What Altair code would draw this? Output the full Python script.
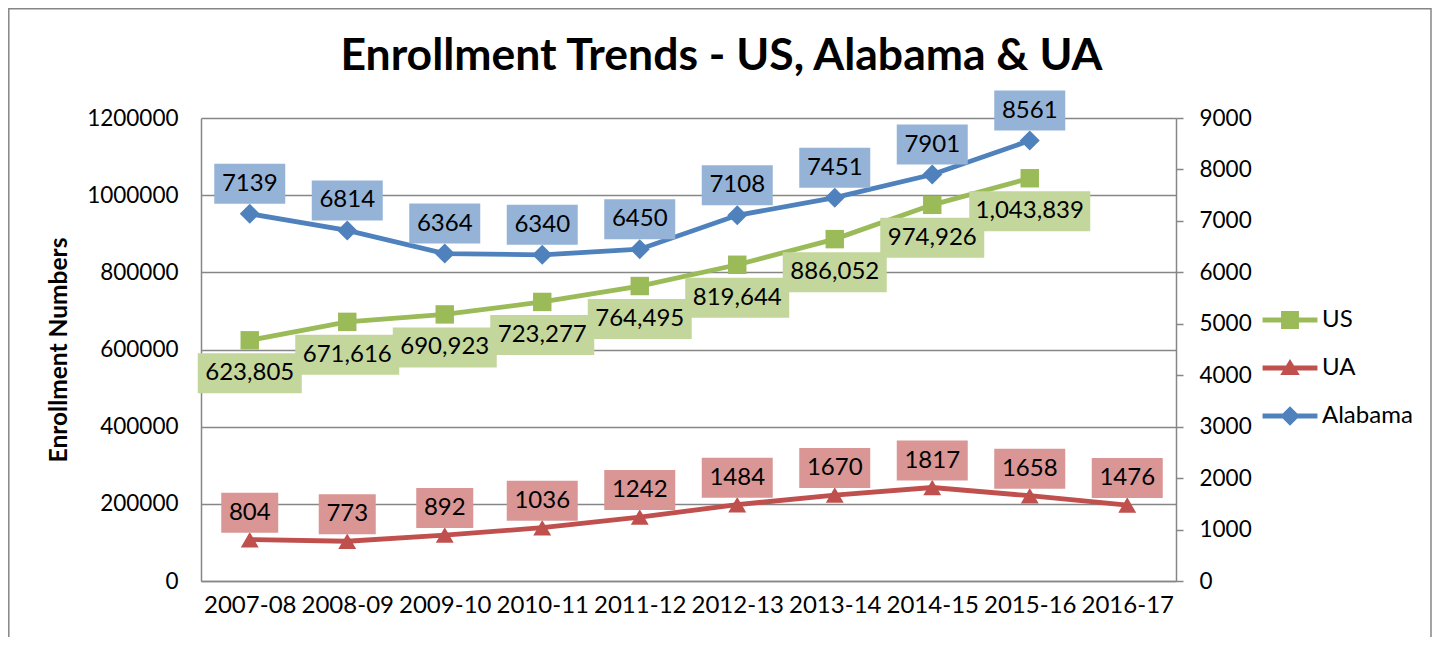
import altair as alt
import pandas as pd

years = ["2007-08", "2008-09", "2009-10", "2010-11", "2011-12",
         "2012-13", "2013-14", "2014-15", "2015-16", "2016-17"]
us_values = [623805, 671616, 690923, 723277, 764495, 819644, 886052, 974926, 1043839, None]
ua_values = [804, 773, 892, 1036, 1242, 1484, 1670, 1817, 1658, 1476]
alabama_values = [7139, 6814, 6364, 6340, 6450, 7108, 7451, 7901, 8561, None]

series_names = ["US", "UA", "Alabama"]
line_colors = ["#9BBB59", "#C0504D", "#4F81BD"]
box_colors = ["#C3D69B", "#D99694", "#95B3D7"]

FONT = "Lato"

# box widths by label character count (pixel sizes of label boxes)
BOX_W = {3: 57, 4: 71, 7: 104, 9: 121}
BOX_H = 40


def box_path(w):
    h = BOX_H / w
    return f"M-1,-{h:.4f}L1,-{h:.4f}L1,{h:.4f}L-1,{h:.4f}Z"


def make_df(name, values, fmt):
    rows = []
    for yr, v in zip(years, values):
        if v is None:
            continue
        lbl = fmt(v)
        w = BOX_W.get(len(lbl), 14 * len(lbl) + 15)
        rows.append({"year": yr, "v": v, "series": name, "lbl": lbl,
                     "bpath": box_path(w), "bsize": w * w})
    return pd.DataFrame(rows)


us_df = make_df("US", us_values, lambda v: f"{v:,}")
ua_df = make_df("UA", ua_values, lambda v: f"{v}")
al_df = make_df("Alabama", alabama_values, lambda v: f"{v}")

x_enc = alt.X("year:N", sort=years,
              scale=alt.Scale(type="point", domain=years, padding=0.5),
              axis=alt.Axis(title=None, ticks=False, labelAngle=0, labelPadding=12,
                            labelFont=FONT, labelFontSize=24, labelColor="#000000",
                            domainColor="#868686", domainWidth=1.5, grid=False))


def series_layers(df, yfield, color, boxcolor, shape, msize, yoff):
    base = alt.Chart(df).encode(x=x_enc, y=yfield)
    line = base.mark_line(color=color, strokeWidth=4.8)
    pts = base.mark_point(shape=shape, size=msize, filled=True, color=color, opacity=1)
    boxes = base.mark_point(filled=True, color=boxcolor, opacity=1, yOffset=yoff).encode(
        shape=alt.Shape("bpath:N", scale=None),
        size=alt.Size("bsize:Q", scale=None),
    )
    txt = base.mark_text(font=FONT, fontSize=24, color="#000000", yOffset=yoff,
                         baseline="middle", align="center").encode(text="lbl:N")
    return [line, pts, boxes, txt]


y_left = alt.Y("v:Q",
               scale=alt.Scale(domain=[0, 1200000], nice=False, zero=True),
               axis=alt.Axis(title="Enrollment Numbers", orient="left",
                             values=list(range(0, 1200001, 200000)), format="d",
                             ticks=False, labelPadding=23,
                             labelFont=FONT, labelFontSize=22.5, labelColor="#000000",
                             titleFont=FONT, titleFontSize=24.5, titleFontWeight="bold",
                             titleColor="#000000", titlePadding=15,
                             grid=True, gridColor="#868686", gridWidth=1.5,
                             domainColor="#868686", domainWidth=1.5))

y_right = alt.Y("v:Q",
                scale=alt.Scale(domain=[0, 9000], nice=False, zero=True),
                axis=alt.Axis(title=None, orient="right",
                              values=list(range(0, 9001, 1000)), format="d",
                              ticks=True, tickSize=7, tickColor="#868686", tickWidth=1.5,
                              labelPadding=16,
                              labelFont=FONT, labelFontSize=22.5, labelColor="#000000",
                              grid=False, domainColor="#868686", domainWidth=1.5))

left_layer = alt.layer(*series_layers(us_df, y_left, line_colors[0], box_colors[0],
                                      "square", 340, 33))
right_layer = alt.layer(
    *series_layers(ua_df, y_right, line_colors[1], box_colors[1], "triangle-up", 320, -27),
    *series_layers(al_df, y_right, line_colors[2], box_colors[2], "diamond", 400, -30),
)

# legend symbols: line + marker (unit = 14px)
leg_paths = [
    "M-1.96,-0.18L1.96,-0.18L1.96,0.18L-1.96,0.18Z M-0.64,-0.64L0.64,-0.64L0.64,0.64L-0.64,0.64Z",
    "M-1.96,-0.18L1.96,-0.18L1.96,0.18L-1.96,0.18Z M-0.7,0.5L0,-0.65L0.7,0.5Z",
    "M-1.96,-0.18L1.96,-0.18L1.96,0.18L-1.96,0.18Z M-0.7,0L0,-0.7L0.7,0L0,0.7Z",
]
legend_df = pd.DataFrame({"series": series_names})
legend_layer = alt.Chart(legend_df).mark_point(filled=True, opacity=1, size=784).encode(
    color=alt.Color("series:N",
                    scale=alt.Scale(domain=series_names, range=line_colors),
                    legend=alt.Legend(title=None, orient="none", legendX=1075, legendY=188,
                                      labelFont=FONT, labelFontSize=24, labelColor="#000000",
                                      labelOffset=18, rowPadding=22, padding=0,
                                      symbolSize=784, symbolStrokeWidth=0,
                                      symbolType="circle")),
    shape=alt.Shape("series:N", scale=alt.Scale(domain=series_names, range=leg_paths)),
).transform_filter("datum.series == 'none'")

# outer chart frame (decoration)
frame_df = pd.DataFrame({"k": [1]})
frame = alt.Chart(frame_df).mark_rect(filled=False, stroke="#868686", strokeWidth=1.5,
                                      opacity=1, strokeOpacity=1).encode(
    x=alt.value(-192.2), x2=alt.value(1230), y=alt.value(-109.2), y2=alt.value(560)
)

chart = alt.layer(frame, left_layer, right_layer, legend_layer).resolve_scale(
    y="independent"
).properties(
    width=975, height=463,
    padding={"left": 193, "top": 110, "right": 256, "bottom": 56},
    autosize=alt.AutoSizeParams(type="none"),
    title=alt.Title("Enrollment Trends - US, Alabama & UA", font=FONT, fontSize=44.5,
                    fontWeight="bold", color="#000000", anchor="middle", frame="group",
                    dx=33, offset=-71),
).configure_view(stroke=None)

chart.save("out.html", embed_options={"renderer": "svg", "actions": False})
